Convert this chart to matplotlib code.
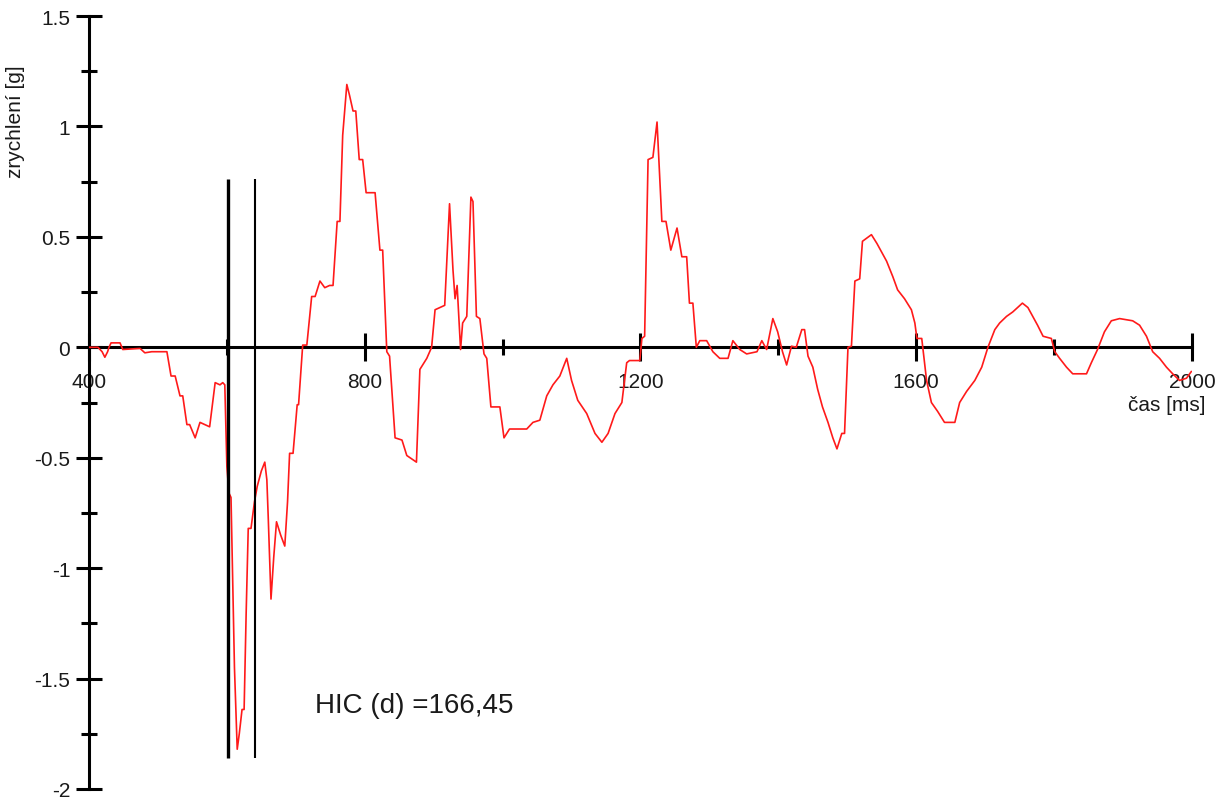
import matplotlib
matplotlib.use("Agg")
import matplotlib.pyplot as plt
from matplotlib.ticker import FixedLocator, FixedFormatter

plt.rcParams["font.family"] = ["Liberation Sans", "DejaVu Sans"]

# ---- data ----
t_ms = [400, 413, 419, 423, 427, 429, 432, 445, 449, 474, 481, 491, 513, 519, 525, 532, 536,
        542, 546, 554, 561, 568, 575, 583, 590, 594, 597, 600, 603, 606, 611, 615, 618, 622,
        625, 628, 631, 635, 640, 644, 650, 655, 658, 660, 664, 668, 672, 678, 684, 688, 691,
        696, 702, 704, 710, 716, 723, 728, 735, 742, 749, 754, 760, 764, 768, 774, 778, 783,
        787, 792, 797, 802, 815, 822, 826, 832, 836, 844, 854, 861, 875, 880, 890, 897, 902,
        916, 923, 928, 931, 934, 939, 942, 948, 954, 957, 962, 967, 973, 977, 983, 996, 1002,
        1010, 1025, 1035, 1044, 1054, 1064, 1073, 1083, 1093, 1100, 1109, 1122, 1134, 1144,
        1153, 1163, 1173, 1180, 1184, 1199, 1202, 1206, 1211, 1218, 1224, 1231, 1237, 1244,
        1253, 1260, 1267, 1271, 1276, 1281, 1286, 1296, 1305, 1315, 1327, 1334, 1344, 1354,
        1369, 1376, 1383, 1392, 1399, 1406, 1412, 1419, 1426, 1434, 1438, 1443, 1450, 1457,
        1464, 1472, 1479, 1485, 1492, 1496, 1501, 1506, 1511, 1518, 1522, 1535, 1543, 1550,
        1557, 1566, 1573, 1583, 1593, 1598, 1601, 1608, 1615, 1622, 1631, 1641, 1656, 1663,
        1673, 1685, 1695, 1704, 1714, 1721, 1731, 1740, 1747, 1754, 1762, 1769, 1776, 1784,
        1796, 1801, 1808, 1818, 1827, 1847, 1854, 1863, 1873, 1883, 1895, 1914, 1924, 1934,
        1943, 1953, 1963, 1972, 1982, 1992, 1999]
accel_g = [0.0, 0.0, -0.02, -0.045, -0.02, 0.0, 0.02, 0.02, -0.01, -0.005, -0.025, -0.02, -0.02,
           -0.13, -0.13, -0.22, -0.22, -0.35, -0.35, -0.41, -0.34, -0.35, -0.36, -0.16, -0.17,
           -0.16, -0.17, -0.54, -0.66, -0.68, -1.45, -1.82, -1.75, -1.64, -1.64, -1.2, -0.82,
           -0.82, -0.70, -0.63, -0.56, -0.52, -0.6, -0.77, -1.14, -0.95, -0.79, -0.85, -0.90,
           -0.7, -0.48, -0.48, -0.26, -0.26, 0.01, 0.01, 0.23, 0.23, 0.30, 0.27, 0.28, 0.28,
           0.57, 0.57, 0.96, 1.19, 1.14, 1.07, 1.07, 0.85, 0.85, 0.70, 0.70, 0.44, 0.44, -0.02,
           -0.04, -0.41, -0.42, -0.49, -0.52, -0.10, -0.05, 0.0, 0.17, 0.19, 0.65, 0.35, 0.22,
           0.28, -0.01, 0.11, 0.14, 0.68, 0.66, 0.14, 0.13, -0.03, -0.05, -0.27, -0.27, -0.41,
           -0.37, -0.37, -0.37, -0.34, -0.33, -0.22, -0.17, -0.13, -0.05, -0.15, -0.24, -0.30,
           -0.39, -0.43, -0.39, -0.30, -0.25, -0.07, -0.06, -0.06, 0.04, 0.05, 0.85, 0.86, 1.02,
           0.57, 0.57, 0.44, 0.54, 0.41, 0.41, 0.20, 0.20, 0.0, 0.03, 0.03, -0.02, -0.05, -0.05,
           0.03, -0.01, -0.03, -0.02, 0.03, -0.01, 0.13, 0.07, -0.02, -0.08, 0.005, 0.0, 0.08,
           0.08, -0.04, -0.09, -0.19, -0.27, -0.34, -0.41, -0.46, -0.39, -0.39, 0.0, 0.005, 0.30,
           0.31, 0.48, 0.51, 0.47, 0.43, 0.39, 0.32, 0.26, 0.22, 0.17, 0.11, 0.04, 0.04, -0.15,
           -0.25, -0.29, -0.34, -0.34, -0.25, -0.20, -0.15, -0.09, 0.0, 0.08, 0.11, 0.14, 0.16,
           0.18, 0.20, 0.18, 0.14, 0.10, 0.05, 0.04, -0.02, -0.05, -0.09, -0.12, -0.12, -0.07,
           -0.01, 0.07, 0.12, 0.13, 0.12, 0.10, 0.05, -0.02, -0.05, -0.09, -0.12, -0.15, -0.14,
           -0.11]

x_major = [400, 800, 1200, 1600, 2000]
x_major_labels = ["400", "800", "1200", "1600", "2000"]
x_minor = [600, 1000, 1400, 1800]
y_major = [-2, -1.5, -1, -0.5, 0, 0.5, 1, 1.5]
y_major_labels = ["-2", "-1.5", "-1", "-0.5", "0", "0.5", "1", "1.5"]
y_minor = [-1.75, -1.25, -0.75, -0.25, 0.25, 0.75, 1.25]

hic_window = [601, 641]       # HIC interval markers [ms]
hic_window_y = [-1.86, 0.76]
hic_text = "HIC (d) =166,45"

# ---- figure ----
fig = plt.figure(figsize=(12.31, 8.03), dpi=100)
ax = fig.add_axes([0.0723, 0.0162, 0.896, 0.9626])
ax.set_xlim(400, 2000)
ax.set_ylim(-2, 1.5)

ax.plot(t_ms, accel_g, color="#ff1a1a", lw=1.2, zorder=3)

ax.vlines(hic_window[0], hic_window_y[0], hic_window_y[1], color="black", lw=2.4, zorder=4)
ax.vlines(hic_window[1], hic_window_y[0], hic_window_y[1], color="black", lw=1.5, zorder=4)

for s in ["top", "right"]:
    ax.spines[s].set_visible(False)
ax.spines["bottom"].set_position(("data", 0))
ax.spines["left"].set_linewidth(2.2)
ax.spines["bottom"].set_linewidth(2.2)

ax.xaxis.set_major_locator(FixedLocator(x_major))
ax.xaxis.set_major_formatter(FixedFormatter(x_major_labels))
ax.xaxis.set_minor_locator(FixedLocator(x_minor))
ax.yaxis.set_major_locator(FixedLocator(y_major))
ax.yaxis.set_major_formatter(FixedFormatter(y_major_labels))
ax.yaxis.set_minor_locator(FixedLocator(y_minor))

ax.tick_params(axis="x", which="major", direction="inout", length=20, width=2.2,
               labelsize=15, pad=7.5, labelcolor="#1a1a1a")
ax.tick_params(axis="x", which="minor", direction="inout", length=11, width=2.2)
ax.tick_params(axis="y", which="major", direction="inout", length=19, width=2.2,
               labelsize=15, pad=4, labelcolor="#1a1a1a")
ax.tick_params(axis="y", which="minor", direction="inout", length=12, width=2.2)

ax.text(1963, -0.258, "čas [ms]", ha="center", va="center", fontsize=15, color="#1a1a1a")
ax.text(728, -1.62, hic_text, ha="left", va="center", fontsize=20, color="#1a1a1a")
fig.text(0.0122, 0.849, "zrychlení [g]", rotation=90, ha="center", va="center",
         fontsize=15, color="#1a1a1a")

fig.savefig("out.png", dpi=100, facecolor="white")
plt.close()
